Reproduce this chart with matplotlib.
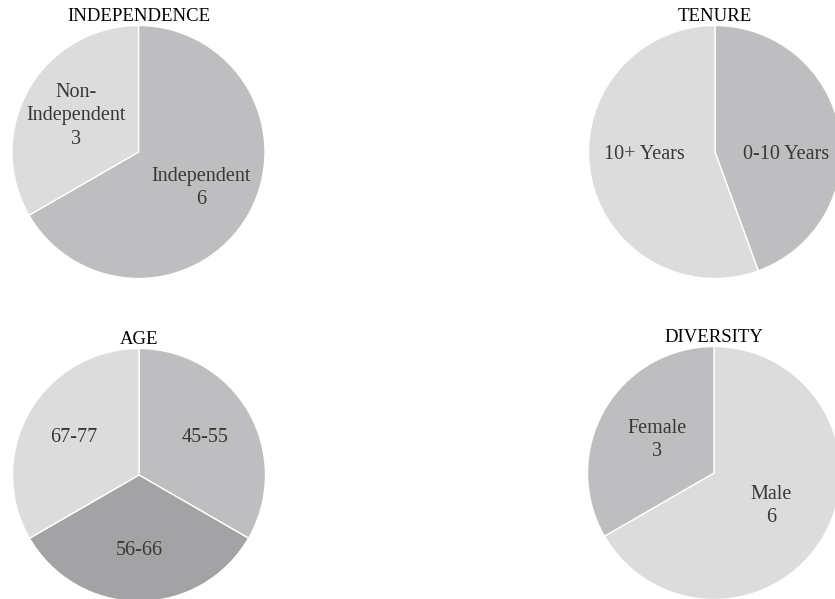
import matplotlib
matplotlib.use('Agg')
import matplotlib.pyplot as plt

# data
independence_labels = ['Independent\n6', 'Non-\nIndependent\n3']
independence_values = [6, 3]
tenure_labels = ['0-10 Years', '10+ Years']
tenure_values = [4, 5]
age_labels = ['45-55', '56-66', '67-77']
age_values = [3, 3, 3]
diversity_labels = ['Male\n6', 'Female\n3']
diversity_values = [6, 3]

LIGHT, MID, DARK = '#dcdcdd', '#bebec0', '#a3a3a5'

W, H = 835, 599
fig = plt.figure(figsize=(W / 100, H / 100), dpi=100)
fig.patch.set_facecolor('white')

R = 126.5


def pie_axes(cx, cy):
    # cx, cy = pie center in pixels (top-left origin)
    return fig.add_axes([(cx - R) / W, (H - cy - R) / H, 2 * R / W, 2 * R / H])


def draw(ax, title, values, labels, colors, ldist=0.57):
    _, texts = ax.pie(values, labels=labels, colors=colors, startangle=90, counterclock=False,
                      labeldistance=ldist,
                      wedgeprops={'edgecolor': 'white', 'linewidth': 1.0},
                      textprops={'ha': 'center', 'va': 'center', 'fontsize': 14.5,
                                 'color': '#383838', 'family': 'Liberation Serif',
                                 'linespacing': 1.3})
    ax.set_xlim(-1, 1)
    ax.set_ylim(-1, 1)
    ax.set_aspect('auto')
    ax.set_title(title, fontsize=13.5, family='Liberation Serif', color='black', pad=3)
    return texts


draw(pie_axes(138.5, 152), 'INDEPENDENCE', independence_values, independence_labels, [MID, LIGHT])
tt = draw(pie_axes(715, 152), 'TENURE', tenure_values, tenure_labels, [MID, LIGHT])
for t in tt:
    # labels sit on the horizontal centre line in the original
    t.set_y(-0.02)
draw(pie_axes(139, 475), 'AGE', age_values, age_labels, [MID, DARK, LIGHT], ldist=0.6)
draw(pie_axes(714, 473), 'DIVERSITY', diversity_values, diversity_labels, [LIGHT, MID], ldist=0.52)

fig.savefig('out.png', dpi=100)
